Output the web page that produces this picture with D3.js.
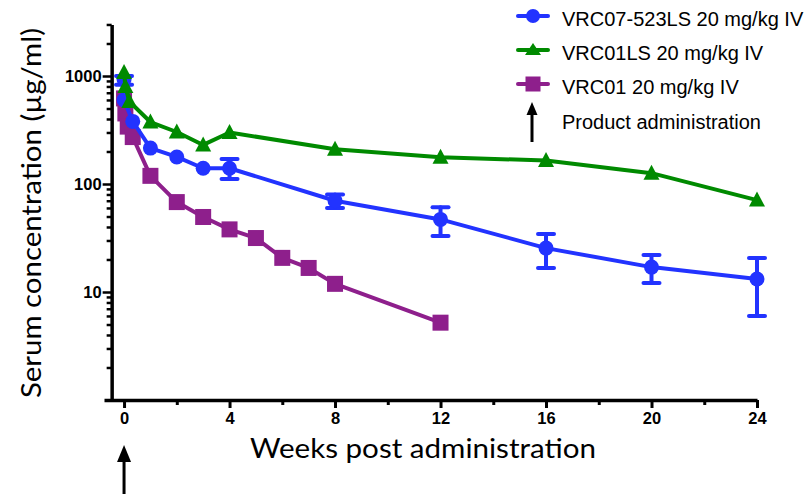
<!DOCTYPE html>
<html><head><meta charset="utf-8">
<script src="https://cdn.jsdelivr.net/npm/d3@7"></script>
<style>body{margin:0;background:#fff}svg{display:block}</style>
</head><body>
<svg id="c" width="810" height="496"></svg>
<script>
// ---- data ----
const blueName = "VRC07-523LS 20 mg/kg IV";
const blueT  = [0, 0, 0.33, 1, 2, 3, 4, 8, 12, 16, 20, 24];
const blueV  = [930, 600, 380, 215, 178, 140, 140, 70, 47, 25.5, 17, 13.2];
const blueLo = [830, null, null, null, null, null, 111, 60, 33, 16.7, 12.1, 6.0];
const blueHi = [1000, null, null, null, null, null, 170, 80, 61, 34.4, 22, 20.6];

const greenName = "VRC01LS 20 mg/kg IV";
const greenT = [0, 0.05, 0.2, 1, 2, 3, 4, 8, 12, 16, 20, 24];
const greenV = [1080, 800, 580, 375, 303, 230, 300, 210, 177, 165, 126, 71];

const purpleName = "VRC01 20 mg/kg IV";
const purpleT = [0, 0.05, 0.14, 0.33, 1, 2, 3, 4, 5, 6, 7, 8, 12];
const purpleV = [620, 450, 340, 272, 119, 68, 49.5, 38, 31.6, 20.7, 16.7, 11.9, 5.2];

const xMajor = [0, 4, 8, 12, 16, 20, 24];
const xMinor = [2, 6, 10, 14, 18, 22];
const yMajor = [10, 100, 1000];
const arrowLabel = "Product administration";
const xTitle = "Weeks post administration";
const yTitle = "Serum concentration (\u00b5g/ml)";

// ---- colours ----
const cBlue = "#2233ff", cGreen = "#008a00", cPurple = "#8e1f8c";

const svg = d3.select("#c");
const x = d3.scaleLinear().domain([-0.76, 24]).range([104, 757]);
const y = d3.scaleLog().domain([1, 3000]).range([400, 400 - 108 * Math.log10(3000)]);
const yAxisX = x(-0.47);

// y minor ticks
const yMinor = [];
for (let k = 0; k < 4; k++) for (let m = 2; m <= 9; m++) { const v = m * Math.pow(10, k); if (v <= 3000) yMinor.push(v); }

// ---- axes ----
const ax = svg.append("g").attr("transform", "translate(0,400)");
ax.call(d3.axisBottom(x).tickValues(xMajor).tickSize(8).tickSizeOuter(0).tickFormat(d3.format("d")));
const axm = svg.append("g").attr("transform", "translate(0,400)");
axm.call(d3.axisBottom(x).tickValues(xMinor).tickSize(5).tickSizeOuter(0).tickFormat(""));
axm.select(".domain").remove();
[ax, axm].forEach(g => {
  g.select(".domain").attr("stroke", "#000").attr("stroke-width", 3.5);
  g.selectAll(".tick line").attr("stroke", "#000").attr("stroke-width", 3);
});
ax.selectAll(".tick text").attr("y", 12).attr("font-family", "Liberation Sans, Arial, sans-serif")
  .attr("font-weight", "bold").attr("font-size", 16.5).attr("fill", "#000");

const ay = svg.append("g").attr("transform", `translate(${yAxisX},0)`);
ay.call(d3.axisLeft(y).tickValues(yMajor).tickSize(9).tickSizeOuter(0).tickFormat(d3.format("d")));
const aym = svg.append("g").attr("transform", `translate(${yAxisX},0)`);
aym.call(d3.axisLeft(y).tickValues(yMinor).tickSize(5).tickSizeOuter(0).tickFormat(""));
aym.select(".domain").remove();
[ay, aym].forEach(g => {
  g.select(".domain").attr("stroke", "#000").attr("stroke-width", 3.5);
  g.selectAll(".tick line").attr("stroke", "#000").attr("stroke-width", 2.5);
});
ay.selectAll(".tick text").attr("x", -10).attr("dy", "0.36em").attr("font-family", "Liberation Sans, Arial, sans-serif")
  .attr("font-weight", "bold").attr("font-size", 16.5).attr("fill", "#000");

// ---- titles ----
svg.append("text").attr("x", 423).attr("y", 458).attr("text-anchor", "middle")
  .attr("font-family", "Lato, 'Open Sans', sans-serif").attr("font-size", 27)
  .attr("textLength", 346).attr("lengthAdjust", "spacingAndGlyphs").text(xTitle);
svg.append("text").attr("transform", "translate(41,213) rotate(-90)").attr("text-anchor", "middle")
  .attr("font-family", "Lato, 'Open Sans', sans-serif").attr("font-size", 27)
  .attr("textLength", 370).attr("lengthAdjust", "spacingAndGlyphs").text(yTitle);

// ---- markers ----
const tri = "M0,-8.5L8,6.5L-8,6.5Z";
function marker(g, kind, color) {
  if (kind === "circle") g.append("circle").attr("r", 7.5).attr("fill", color);
  else if (kind === "tri") g.append("path").attr("d", tri).attr("fill", color);
  else g.append("rect").attr("x", -8).attr("y", -8).attr("width", 16).attr("height", 16).attr("fill", color);
}

const line = d3.line().x(d => x(d.t)).y(d => y(d.v));
function series(T, V, color, kind, lo, hi) {
  const data = T.map((t, i) => ({ t, v: V[i], lo: lo ? lo[i] : null, hi: hi ? hi[i] : null }));
  const g = svg.append("g");
  g.append("path").datum(data).attr("d", line).attr("fill", "none").attr("stroke", color)
    .attr("stroke-width", 4).attr("stroke-linejoin", "round");
  data.filter(d => d.lo != null).forEach(d => {
    const eg = g.append("g").attr("stroke", color).attr("stroke-width", 4).attr("stroke-linecap", "round");
    eg.append("line").attr("x1", x(d.t)).attr("x2", x(d.t)).attr("y1", y(d.lo)).attr("y2", y(d.hi));
    [d.lo, d.hi].forEach(v => eg.append("line").attr("x1", x(d.t) - 8).attr("x2", x(d.t) + 8).attr("y1", y(v)).attr("y2", y(v)));
  });
  data.forEach(d => marker(g.append("g").attr("transform", `translate(${x(d.t)},${y(d.v)})`), kind, color));
}
series(purpleT, purpleV, cPurple, "square");
series(blueT, blueV, cBlue, "circle", blueLo, blueHi);
series(greenT, greenV, cGreen, "tri");

// ---- legend ----
const leg = [
  { name: blueName, color: cBlue, kind: "circle", y: 16 },
  { name: greenName, color: cGreen, kind: "tri", y: 50 },
  { name: purpleName, color: cPurple, kind: "square", y: 84 }
];
leg.forEach(l => {
  const g = svg.append("g");
  g.append("line").attr("x1", 518).attr("x2", 548).attr("y1", l.y).attr("y2", l.y)
    .attr("stroke", l.color).attr("stroke-width", 4).attr("stroke-linecap", "round");
  const mg = g.append("g").attr("transform", `translate(533,${l.y})`);
  if (l.kind === "circle") mg.append("circle").attr("r", 7).attr("fill", l.color);
  else if (l.kind === "tri") mg.append("path").attr("d", "M0,-7L8,5L-8,5Z").attr("fill", l.color);
  else mg.append("rect").attr("x", -7.5).attr("y", -7.5).attr("width", 15).attr("height", 15).attr("fill", l.color);
  g.append("text").attr("x", 562).attr("y", l.y + 10).attr("font-family", "Liberation Sans, Arial, sans-serif")
    .attr("font-size", 20).attr("fill", "#000").text(l.name);
});

function arrow(cx, tipY, botY, headH, headW) {
  svg.append("line").attr("x1", cx).attr("x2", cx).attr("y1", tipY + headH - 1).attr("y2", botY)
    .attr("stroke", "#000").attr("stroke-width", 3);
  svg.append("path").attr("d", `M${cx},${tipY}L${cx + headW / 2},${tipY + headH}L${cx - headW / 2},${tipY + headH}Z`).attr("fill", "#000");
}
arrow(532, 102, 142, 13, 11);
svg.append("text").attr("x", 562).attr("y", 129).attr("font-family", "Liberation Sans, Arial, sans-serif")
  .attr("font-size", 20).attr("fill", "#000").text(arrowLabel);
arrow(x(0), 445, 494, 17, 14);
</script>
</body></html>
